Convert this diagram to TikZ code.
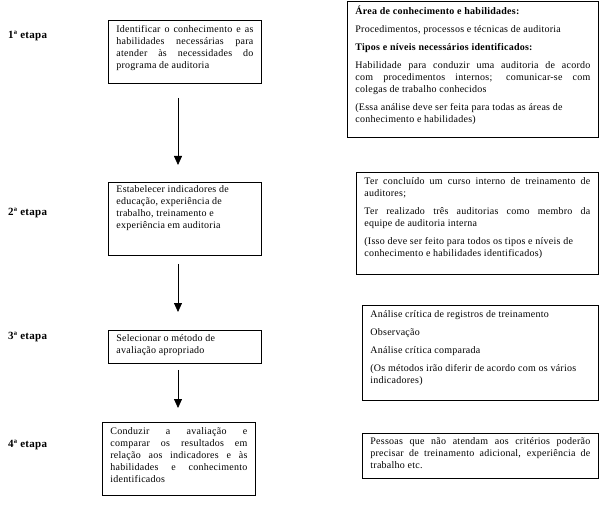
\documentclass[tikz,border=0pt]{standalone}
\usepackage{fontspec}
\setmainfont[LetterSpace=2.5]{Liberation Serif}
\usetikzlibrary{arrows.meta,calc}
\newcommand{\bx}[4]{\parbox[c][#2pt][t]{#1pt}{\fontsize{10}{12}\selectfont\hyphenpenalty=10000\emergencystretch=20pt\vspace*{#3pt}#4}}
\newcommand{\pskip}{\par\vspace{6pt}}
\tikzset{
  box/.style={draw, line width=0.8pt, inner xsep=8pt, inner ysep=0pt, anchor=north west},
  lab/.style={anchor=west, font=\fontsize{11}{12}\selectfont\bfseries, inner sep=0pt},
  arr/.style={line width=0.8pt, -{Triangle[length=9pt,width=8pt]}}
}
\begin{document}
\begin{tikzpicture}[x=1pt,y=-1pt]
\useasboundingbox (0,0) rectangle (600,508);
% labels
\node[lab] (l1) at (8,36) {1ª etapa};
\node[lab] (l2) at (8,213) {2ª etapa};
\node[lab] (l3) at (8,337) {3ª etapa};
\node[lab] (l4) at (8,445) {4ª etapa};
% left boxes
\node[box] (b1) at (108,20) {\bx{137}{63}{5}{Identificar o conhecimento e as\linebreak habilidades necessárias para\linebreak atender às necessidades do\linebreak programa de auditoria}};
\node[box] (b2) at (108,182) {\bx{137}{73}{3}{Estabelecer indicadores de\\ educação, experiência de\\ trabalho, treinamento e\\ experiência em auditoria}};
\node[box] (b3) at (108,330) {\bx{137}{33}{4}{Selecionar o método de\\ avaliação apropriado}};
\node[box] (b4) at (102,422) {\bx{137}{73}{5}{Conduzir a avaliação e\linebreak comparar os resultados em\linebreak relação aos indicadores e às\linebreak habilidades e conhecimento\linebreak identificados}};
% right boxes
\node[box] (rA) at (347,1) {\bx{235}{136}{5}{\textbf{Área de conhecimento e habilidades:}\pskip
Procedimentos, processos e técnicas de auditoria\pskip
\textbf{Tipos e níveis necessários identificados:}\pskip
Habilidade para conduzir uma auditoria de acordo\linebreak com procedimentos internos; comunicar-se com\linebreak colegas de trabalho conhecidos\pskip
(Essa análise deve ser feita para todas as áreas de\\ conhecimento e habilidades)}};
\node[box] (rB) at (356,172) {\bx{226}{102}{5}{Ter concluído um curso interno de treinamento de\linebreak auditores;\pskip
Ter realizado três auditorias como membro da\linebreak equipe de auditoria interna\pskip
(Isso deve ser feito para todos os tipos e níveis de\\ conhecimento e habilidades identificados)}};
\node[box] (rC) at (362,305) {\bx{220}{95}{5}{Análise crítica de registros de treinamento\pskip
Observação\pskip
Análise crítica comparada\pskip
(Os métodos irão diferir de acordo com os vários\\ indicadores)}};
\node[box] (rD) at (362,433) {\bx{220}{45}{4}{Pessoas que não atendam aos critérios poderão\linebreak precisar de treinamento adicional, experiência de\linebreak trabalho etc.}};
% arrows
\coordinate (ax) at (178,0);
\draw[arr] ($(b1.south -| ax)+(0,14)$) -- ($(b2.north -| ax)+(0,-17)$);
\draw[arr] ($(b2.south -| ax)+(0,8)$) -- ($(b3.north -| ax)+(0,-18)$);
\draw[arr] ($(b3.south -| ax)+(0,6)$) -- ($(b4.north -| ax)+(0,-14)$);
\end{tikzpicture}
\end{document}
